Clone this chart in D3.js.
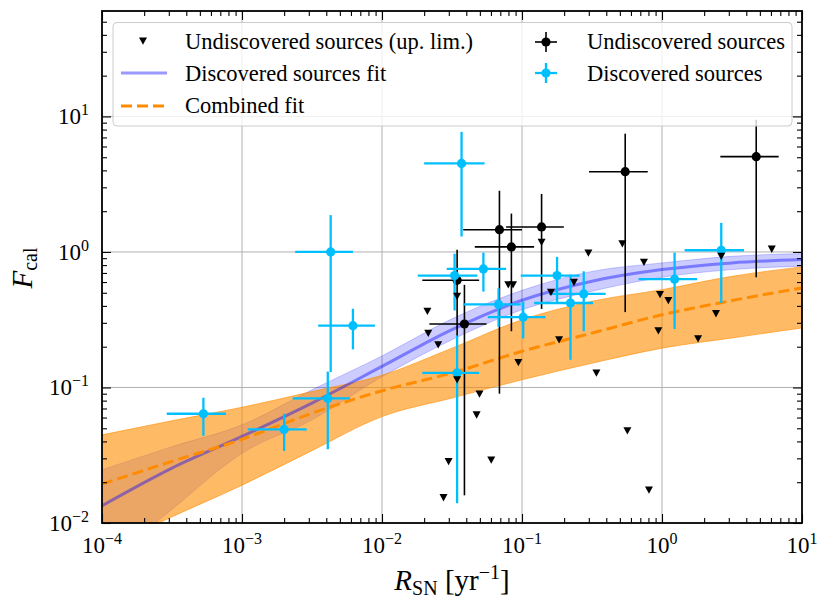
<!DOCTYPE html>
<html>
<head>
<meta charset="utf-8">
<script src="https://cdn.jsdelivr.net/npm/d3@7"></script>
<style>
  body { margin: 0; background: #fff; }
  text { font-family: "Liberation Serif", "DejaVu Serif", serif; fill: #000; }
</style>
</head>
<body>
<svg id="chart" width="831" height="606"></svg>
<script>
'use strict';

// discovered sources (blue points)
var discX    = [5.3e-4, 4.3e-3, 6.2e-3, 4.1e-3, 2.0e-3, 0.037, 0.033, 0.053, 0.068, 0.102, 0.178, 0.222, 0.276, 0.0344, 1.23, 2.65];
var discXErr = [2.4e-4, 1.9e-3, 2.7e-3, 1.8e-3, 0.9e-3, 0.017, 0.015, 0.024, 0.030, 0.045, 0.080, 0.100, 0.120, 0.015, 0.55, 1.2];
var discY    = [0.064, 1.0, 0.286, 0.083, 0.049, 4.5, 0.67, 0.75, 0.41, 0.33, 0.67, 0.42, 0.49, 0.128, 0.63, 1.03];
var discYErr = [0.020, 0.87, 0.095, 0.048, 0.015, 3.2, 0.30, 0.24, 0.13, 0.10, 0.25, 0.26, 0.23, 0.114, 0.36, 0.61];

// undiscovered sources with a measurement (black points)
var undX    = [0.069, 0.084, 0.138, 0.0344, 0.0388, 0.546, 4.71];
var undXErr = [0.031, 0.038, 0.061, 0.015, 0.017, 0.245, 2.1];
var undY    = [1.46, 1.09, 1.53, 0.618, 0.294, 3.91, 5.05];
var undYErr = [1.37, 0.83, 1.15, 0.42, 0.278, 3.55, 4.4];

// undiscovered sources, upper limits
var limX = [0.0211, 0.0214, 0.0252, 0.0344, 0.0798, 0.0863, 0.138, 0.161, 0.235, 0.298,
            0.184, 0.0344, 0.0497, 0.0474, 0.0299, 0.0603, 0.0275, 0.0942, 0.34, 0.521,
            0.743, 0.968, 1.11, 0.942, 1.81, 2.43, 2.65, 6.08, 0.566, 0.807];
var limY = [0.365, 0.251, 0.207, 0.471, 0.574, 0.574, 1.18, 0.504, 0.597, 0.984,
            0.225, 0.114, 0.0897, 0.0628, 0.0284, 0.0292, 0.0154, 0.153, 0.128, 1.15,
            0.839, 0.486, 0.438, 0.262, 0.229, 0.351, 0.929, 1.05, 0.0479, 0.0175];

// fit curves
var fitX       = [1e-4, 3.16e-4, 1e-3, 3.16e-3, 1e-2, 3.16e-2, 0.1, 0.316, 1, 3.16, 10];
var discFit    = [0.0134, 0.0254, 0.0435, 0.0767, 0.143, 0.267, 0.44, 0.608, 0.741, 0.83, 0.879];
var discFitHi  = [0.0247, 0.0366, 0.053, 0.0962, 0.171, 0.321, 0.521, 0.719, 0.83, 0.929, 0.973];
var discFitLo  = [0.0048, 0.0126, 0.0327, 0.0577, 0.12, 0.225, 0.375, 0.513, 0.65, 0.741, 0.785];
var combFit    = [0.0194, 0.0285, 0.0415, 0.0646, 0.0946, 0.128, 0.185, 0.252, 0.344, 0.438, 0.543];
var combFitHi  = [0.0447, 0.0568, 0.0714, 0.0933, 0.123, 0.195, 0.316, 0.433, 0.527, 0.661, 0.776];
var combFitLo  = [0.0063, 0.0111, 0.019, 0.0342, 0.061, 0.0836, 0.114, 0.151, 0.195, 0.232, 0.275];

var xTicks = [1e-4, 1e-3, 1e-2, 1e-1, 1, 10];
var xTickExp = ['\u22124', '\u22123', '\u22122', '\u22121', '0', '1'];
var yTicks = [1e-2, 1e-1, 1, 10];
var yTickExp = ['\u22122', '\u22121', '0', '1'];

var margin = { top: 11, right: 29, bottom: 83, left: 102 };
var width = 831 - margin.left - margin.right;
var height = 606 - margin.top - margin.bottom;

var BLUE = '#00bfff';

var svg = d3.select('#chart');
var g = svg.append('g').attr('transform', 'translate(' + margin.left + ',' + margin.top + ')');

var x = d3.scaleLog().domain([1e-4, 10]).range([0, width]);
var y = d3.scaleLog().domain([1e-2, 60]).range([height, 0]);

g.append('defs').append('clipPath').attr('id', 'clip')
  .append('rect').attr('width', width).attr('height', height);

// grid
g.append('g').selectAll('line').data(xTicks.slice(1, -1)).enter().append('line')
  .attr('x1', function (d) { return x(d); }).attr('x2', function (d) { return x(d); })
  .attr('y1', 0).attr('y2', height)
  .style('stroke', '#b0b0b0').style('stroke-width', 1);
g.append('g').selectAll('line').data(yTicks.slice(1)).enter().append('line')
  .attr('y1', function (d) { return y(d); }).attr('y2', function (d) { return y(d); })
  .attr('x1', 0).attr('x2', width)
  .style('stroke', '#b0b0b0').style('stroke-width', 1);

var plot = g.append('g').attr('clip-path', 'url(#clip)');

function band(lo, hi) {
  return d3.area()
    .x(function (d, i) { return x(fitX[i]); })
    .y0(function (d, i) { return y(lo[i]); })
    .y1(function (d, i) { return y(hi[i]); })
    .curve(d3.curveMonotoneX)(fitX);
}
function curve(vals) {
  return d3.line()
    .x(function (d, i) { return x(fitX[i]); })
    .y(function (d, i) { return y(vals[i]); })
    .curve(d3.curveMonotoneX)(fitX);
}

plot.append('path').attr('d', band(discFitLo, discFitHi))
  .style('fill', 'blue').style('fill-opacity', 0.2)
  .style('stroke', 'blue').style('stroke-opacity', 0.2).style('stroke-width', 1);
plot.append('path').attr('d', band(combFitLo, combFitHi))
  .style('fill', 'darkorange').style('fill-opacity', 0.6)
  .style('stroke', 'darkorange').style('stroke-opacity', 0.6).style('stroke-width', 1);
plot.append('path').attr('d', curve(discFit))
  .style('fill', 'none').style('stroke', 'blue').style('stroke-opacity', 0.4).style('stroke-width', 3);
plot.append('path').attr('d', curve(combFit))
  .style('fill', 'none').style('stroke', 'darkorange').style('stroke-width', 3)
  .style('stroke-dasharray', '11,5');

function errorbars(xs, xe, ys, ye, color, lw) {
  var grp = plot.append('g');
  xs.forEach(function (xv, i) {
    var yv = ys[i];
    grp.append('line')
      .attr('x1', x(Math.max(xv - xe[i], 1e-6))).attr('x2', x(xv + xe[i]))
      .attr('y1', y(yv)).attr('y2', y(yv))
      .style('stroke', color).style('stroke-width', lw);
    grp.append('line')
      .attr('x1', x(xv)).attr('x2', x(xv))
      .attr('y1', y(Math.max(yv - ye[i], 1e-4))).attr('y2', y(yv + ye[i]))
      .style('stroke', color).style('stroke-width', lw);
  });
  grp.selectAll('circle').data(xs).enter().append('circle')
    .attr('cx', function (d) { return x(d); })
    .attr('cy', function (d, i) { return y(ys[i]); })
    .attr('r', 4.6).style('fill', color);
}

errorbars(undX, undXErr, undY, undYErr, '#000', 1.6);
errorbars(discX, discXErr, discY, discYErr, BLUE, 2.3);

var tri = 'M0,3.8L-4,-3.5L4,-3.5Z';
plot.append('g').selectAll('path').data(limX).enter().append('path')
  .attr('d', tri)
  .attr('transform', function (d, i) { return 'translate(' + x(d) + ',' + y(limY[i]) + ')'; })
  .style('fill', '#000');

// ticks, pointing inwards on all four sides
function minors(lo, hi, max) {
  var out = [];
  for (var e = lo; e <= hi; e++) {
    for (var k = 2; k <= 9; k++) {
      var v = k * Math.pow(10, e);
      if (v < max) out.push(v);
    }
  }
  return out;
}
var xMinor = minors(-4, 0, 10);
var yMinor = minors(-2, 1, 60);

function ticks(axis, tr) {
  var a = g.append('g').attr('transform', tr).call(axis);
  a.select('.domain').remove();
  a.selectAll('line').style('stroke', '#000').style('stroke-width', 1.1);
  return a;
}
ticks(d3.axisBottom(x).tickValues(xTicks).tickSize(-9).tickFormat(''), 'translate(0,' + height + ')');
ticks(d3.axisBottom(x).tickValues(xMinor).tickSize(-5).tickFormat(''), 'translate(0,' + height + ')');
ticks(d3.axisTop(x).tickValues(xTicks).tickSize(-9).tickFormat(''), 'translate(0,0)');
ticks(d3.axisTop(x).tickValues(xMinor).tickSize(-5).tickFormat(''), 'translate(0,0)');
ticks(d3.axisLeft(y).tickValues(yTicks).tickSize(-9).tickFormat(''), 'translate(0,0)');
ticks(d3.axisLeft(y).tickValues(yMinor).tickSize(-5).tickFormat(''), 'translate(0,0)');
ticks(d3.axisRight(y).tickValues(yTicks).tickSize(-9).tickFormat(''), 'translate(' + width + ',0)');
ticks(d3.axisRight(y).tickValues(yMinor).tickSize(-5).tickFormat(''), 'translate(' + width + ',0)');

g.append('rect').attr('width', width).attr('height', height)
  .style('fill', 'none').style('stroke', '#000').style('stroke-width', 1.8);

// tick labels
function powLabel(sel, exp) {
  sel.append('tspan').text('10');
  sel.append('tspan').attr('dy', -9).style('font-size', '16px').text(exp);
}
xTicks.forEach(function (t, i) {
  var txt = g.append('text').attr('x', x(t)).attr('y', height + 30)
    .attr('text-anchor', 'middle').style('font-size', '23px');
  powLabel(txt, xTickExp[i]);
});
yTicks.forEach(function (t, i) {
  var txt = g.append('text').attr('x', -13).attr('y', y(t) + 8)
    .attr('text-anchor', 'end').style('font-size', '23px');
  powLabel(txt, yTickExp[i]);
});

// axis titles
var xl = svg.append('text').attr('x', 452).attr('y', 590)
  .attr('text-anchor', 'middle').style('font-size', '29px');
xl.append('tspan').style('font-style', 'italic').text('R');
xl.append('tspan').attr('dy', 5).style('font-size', '20px').text('SN');
xl.append('tspan').attr('dy', -5).text(' [yr');
xl.append('tspan').attr('dy', -11).style('font-size', '20px').text('\u22121');
xl.append('tspan').attr('dy', 11).text(']');

var yl = svg.append('text').attr('transform', 'translate(32,268) rotate(-90)')
  .attr('text-anchor', 'middle').style('font-size', '29px');
yl.append('tspan').style('font-style', 'italic').text('F');
yl.append('tspan').attr('dy', 5).style('font-size', '20px').text('cal');

// legend
var leg = svg.append('g');
leg.append('rect').attr('x', 113).attr('y', 22.5).attr('width', 679).attr('height', 103.5)
  .attr('rx', 4).style('fill', '#fff').style('fill-opacity', 0.8)
  .style('stroke', '#cccccc').style('stroke-width', 1);

var legText = [
  { x: 185, y: 49, label: 'Undiscovered sources (up. lim.)' },
  { x: 185, y: 81, label: 'Discovered sources fit' },
  { x: 185, y: 113, label: 'Combined fit' },
  { x: 587, y: 49, label: 'Undiscovered sources' },
  { x: 587, y: 81, label: 'Discovered sources' }
];
leg.selectAll('text').data(legText).enter().append('text')
  .attr('x', function (d) { return d.x; })
  .attr('y', function (d) { return d.y; })
  .style('font-size', '22.5px')
  .text(function (d) { return d.label; });

leg.append('path').attr('d', tri).attr('transform', 'translate(143,41)').style('fill', '#000');
leg.append('line').attr('x1', 121).attr('x2', 167).attr('y1', 73).attr('y2', 73)
  .style('stroke', 'blue').style('stroke-opacity', 0.4).style('stroke-width', 3);
leg.append('line').attr('x1', 121).attr('x2', 167).attr('y1', 106).attr('y2', 106)
  .style('stroke', 'darkorange').style('stroke-width', 3).style('stroke-dasharray', '11,5');

function legErr(cx, cy, color, lw) {
  leg.append('line').attr('x1', cx - 11).attr('x2', cx + 11).attr('y1', cy).attr('y2', cy)
    .style('stroke', color).style('stroke-width', lw);
  leg.append('line').attr('x1', cx).attr('x2', cx).attr('y1', cy - 10).attr('y2', cy + 10)
    .style('stroke', color).style('stroke-width', lw);
  leg.append('circle').attr('cx', cx).attr('cy', cy).attr('r', 4.6).style('fill', color);
}
legErr(546, 42, '#000', 1.6);
legErr(546, 73, BLUE, 2.3);
</script>
</body>
</html>
